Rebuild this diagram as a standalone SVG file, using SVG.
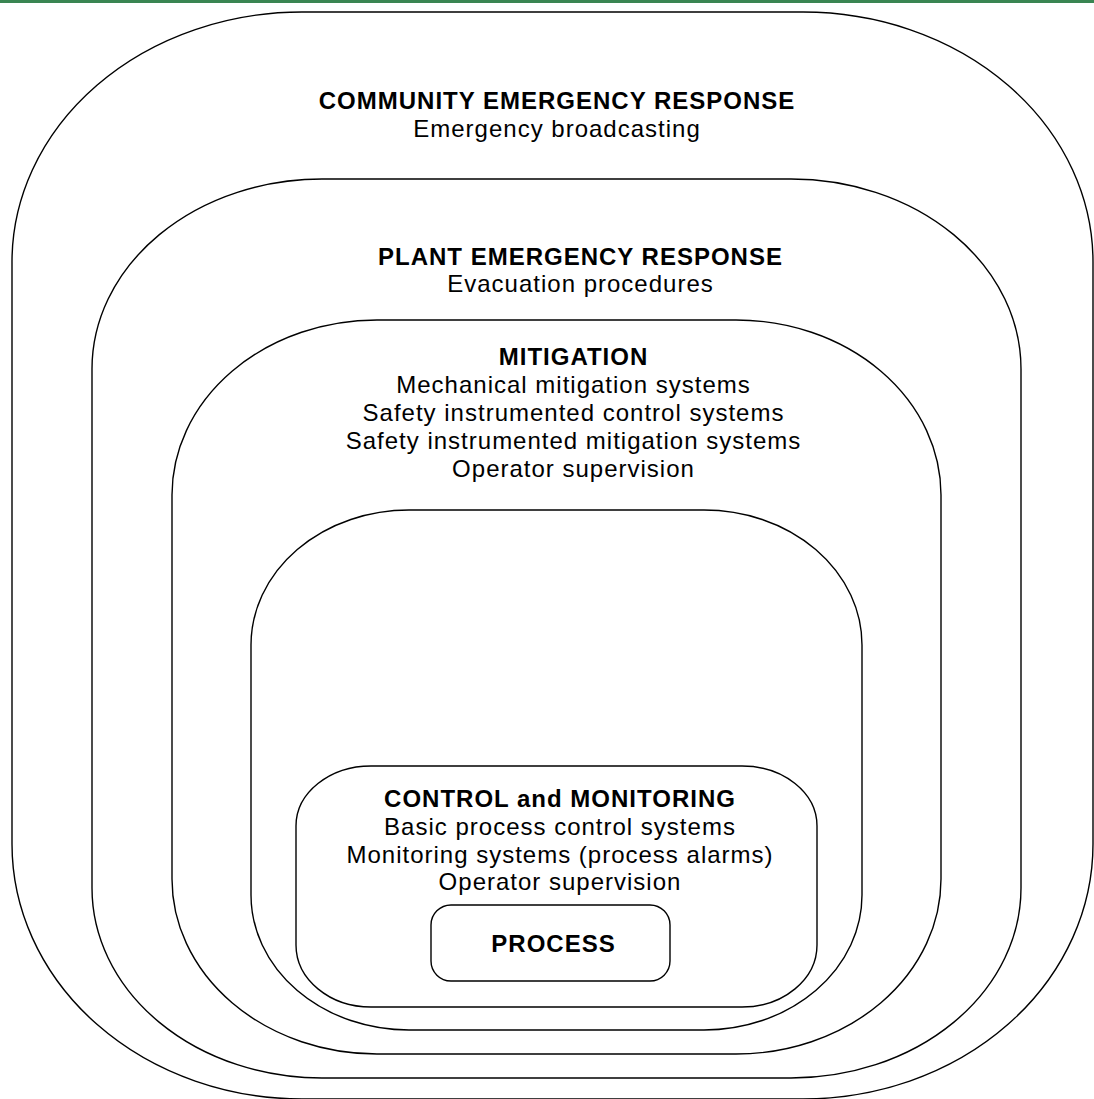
<svg xmlns="http://www.w3.org/2000/svg" width="1094" height="1099" viewBox="0 0 1094 1099">
<style>
.b{fill:none;stroke:#000;stroke-width:1.4}
text{font-family:"Liberation Sans",Arial,sans-serif;font-size:24px;letter-spacing:1px;fill:#000;text-anchor:middle}
.h{font-weight:bold}
</style>
<rect x="0" y="0" width="1094" height="1099" fill="#fff"/>
<rect x="0" y="0" width="1094" height="3" fill="#3a8552"/>
<g id="community">
<path class="b" d="M302,12 H803 A290 250 0 0 1 1093,262 V844 A290 255 0 0 1 803,1099 H302 A290 255 0 0 1 12,844 V262 A290 250 0 0 1 302,12 Z"/>
<text class="h" x="557" y="109">COMMUNITY EMERGENCY RESPONSE</text>
<text x="557" y="137">Emergency broadcasting</text>
</g>
<g id="plant">
<path class="b" d="M322,179 H791 A230 190 0 0 1 1021,369 V888 A230 190 0 0 1 791,1078 H322 A230 190 0 0 1 92,888 V369 A230 190 0 0 1 322,179 Z"/>
<text class="h" x="580.5" y="265">PLANT EMERGENCY RESPONSE</text>
<text x="580.5" y="292">Evacuation procedures</text>
</g>
<g id="mitigation">
<path class="b" d="M377,320 H736 A205 175 0 0 1 941,495 V879 A205 175 0 0 1 736,1054 H377 A205 175 0 0 1 172,879 V495 A205 175 0 0 1 377,320 Z"/>
<text class="h" x="573.5" y="365">MITIGATION</text>
<text x="573.5" y="393">Mechanical mitigation systems</text>
<text x="573.5" y="421">Safety instrumented control systems</text>
<text x="573.5" y="449">Safety instrumented mitigation systems</text>
<text x="573.5" y="477">Operator supervision</text>
</g>
<g id="layer4">
<path class="b" d="M409,510 H704 A158 135 0 0 1 862,645 V895 A158 135 0 0 1 704,1030 H409 A158 135 0 0 1 251,895 V645 A158 135 0 0 1 409,510 Z"/>
</g>
<g id="control">
<path class="b" d="M371,766 H742 A75 60 0 0 1 817,826 V945 A75 62 0 0 1 742,1007 H371 A75 62 0 0 1 296,945 V826 A75 60 0 0 1 371,766 Z"/>
<text class="h" x="560" y="807">CONTROL and MONITORING</text>
<text x="560" y="835">Basic process control systems</text>
<text x="560" y="863">Monitoring systems (process alarms)</text>
<text x="560" y="890">Operator supervision</text>
</g>
<g id="process">
<rect class="b" x="431" y="905" width="239" height="76" rx="20" ry="20"/>
<text class="h" x="553.5" y="952">PROCESS</text>
</g>
<g id="connectors"></g>
</svg>
